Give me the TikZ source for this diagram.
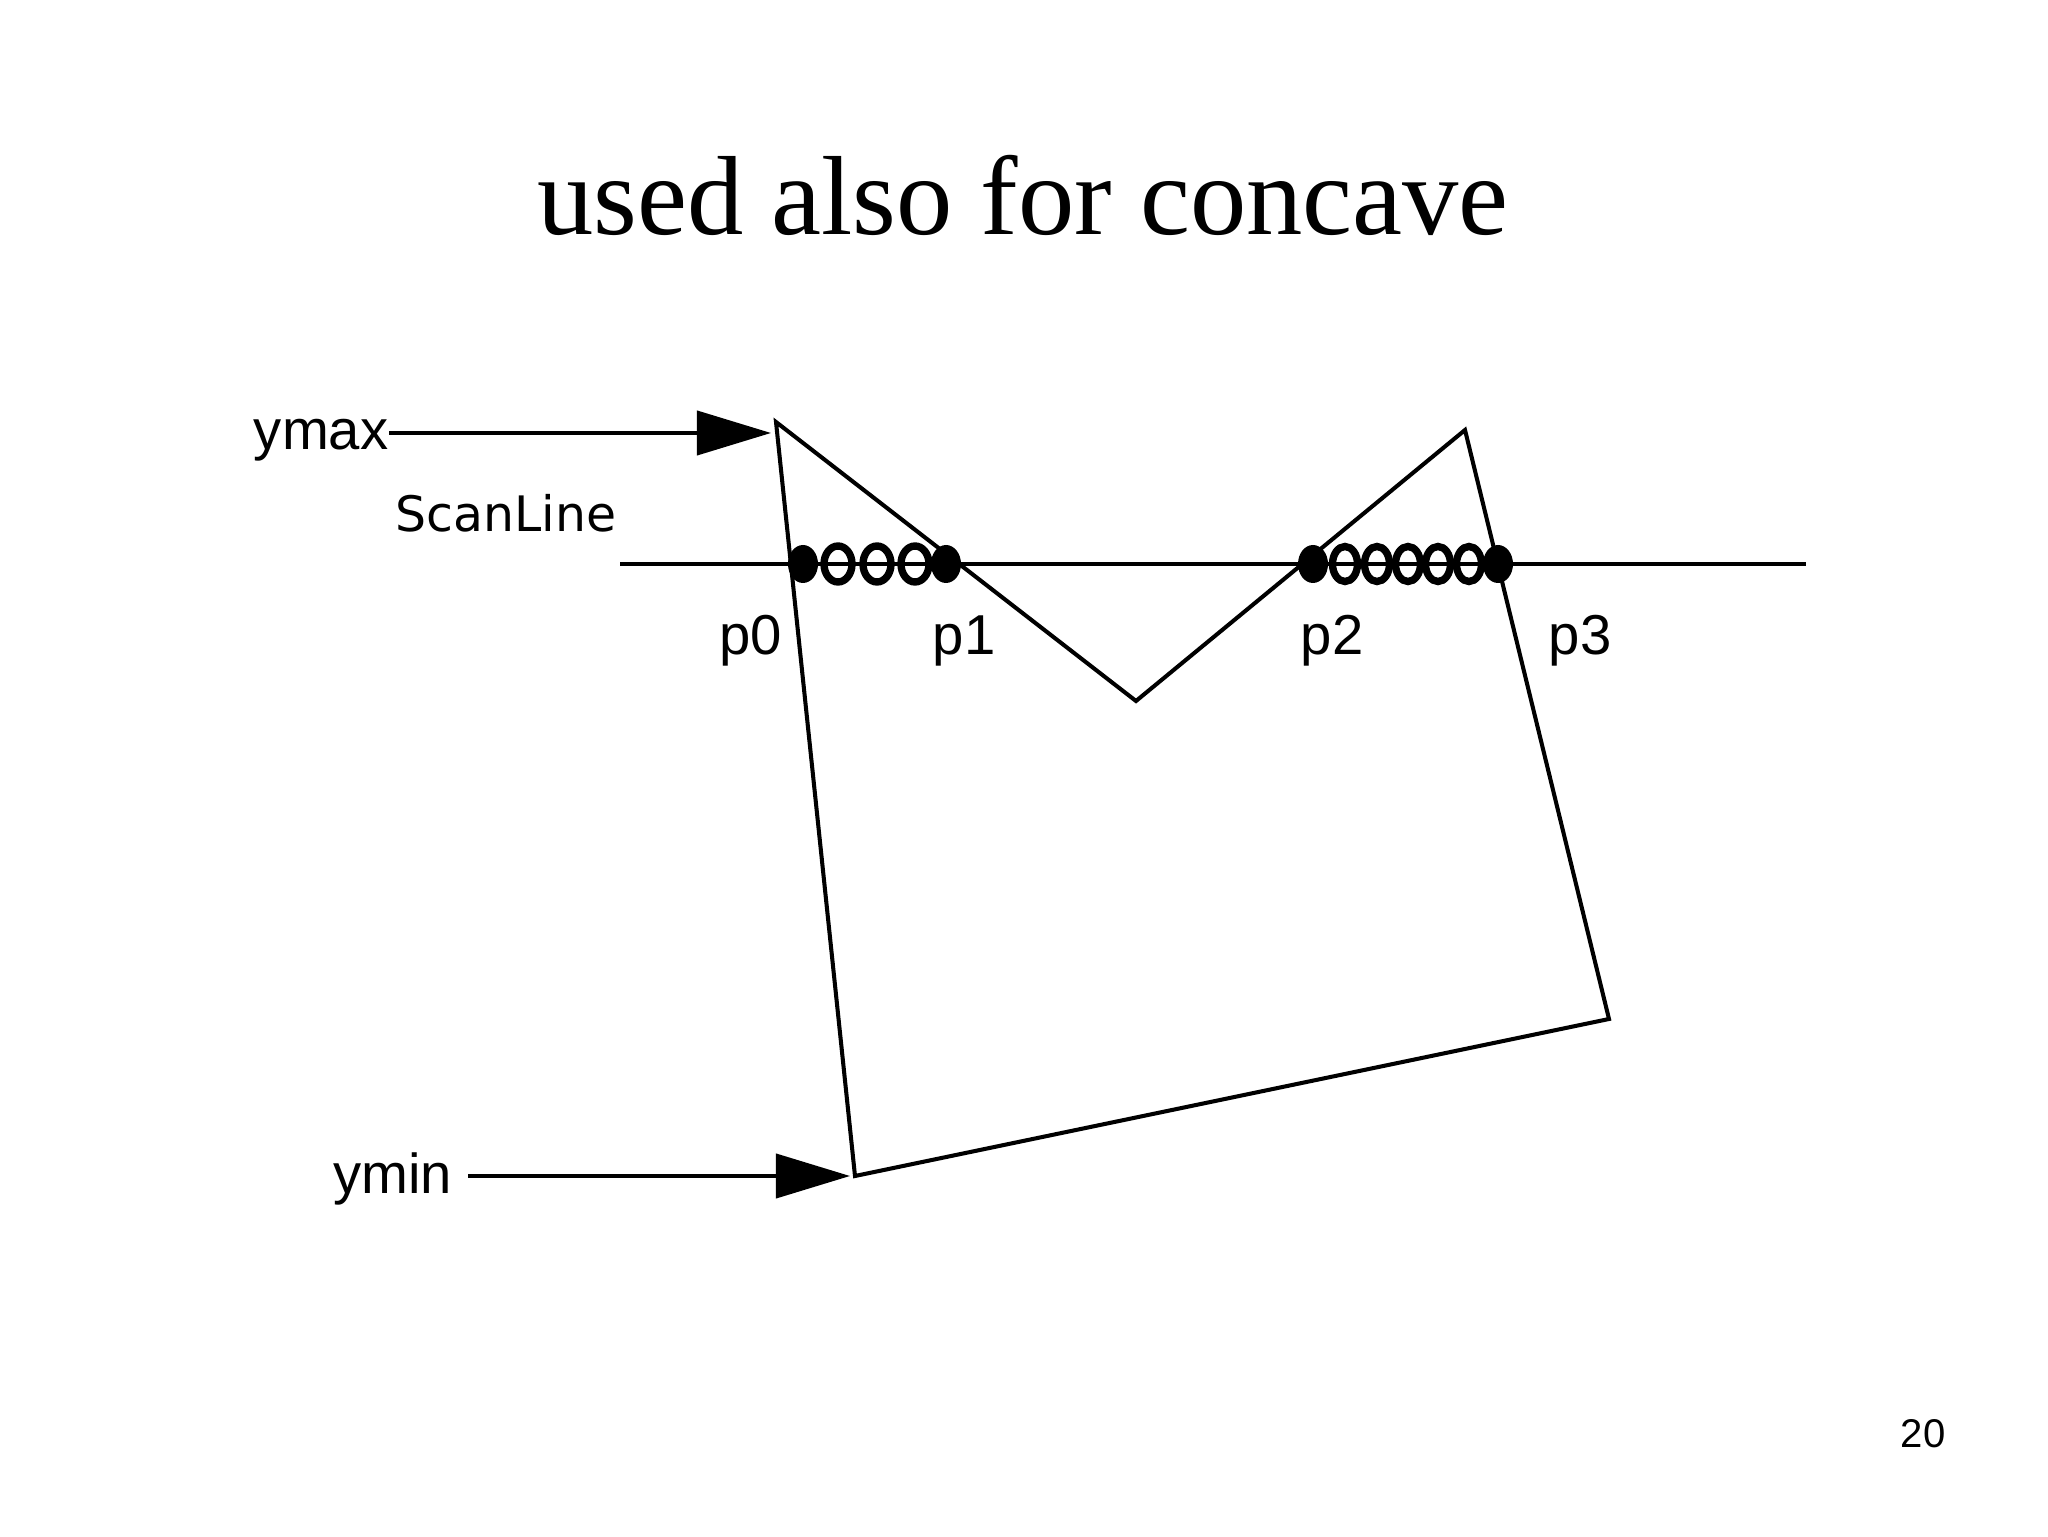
\documentclass[tikz,border=0pt]{standalone}
\usepackage{fontspec}
\setmainfont{Liberation Serif}
\newfontfamily\arialfont{Liberation Sans}
\newfontfamily\verdanafont{DejaVu Sans}
\usepackage{tikz}
\usetikzlibrary{arrows.meta}

\tikzset{
  edge/.style={line width=1.15pt, line join=miter},
  scan/.style={line width=1.4pt},
  ring/.style={line width=2.1pt},
  lbl/.style={inner sep=0pt, font=\arialfont\fontsize{16}{19}\selectfont},
  arr/.style={line width=1.15pt, -{Triangle[length=0.74cm,width=0.44cm]}},
}

\begin{document}
\begin{tikzpicture}[x=0.01cm,y=-0.01cm]
        \useasboundingbox (0,0) rectangle (2048,1537);

        % title of the slide
        \node[anchor=base, inner sep=0pt, font=\fontsize{32}{38}\selectfont] (title) at (1023,235) {used also for concave};

        % the concave polygon
        \coordinate (A) at (776,422);
        \coordinate (B) at (1136,701);
        \coordinate (C) at (1465,430);
        \coordinate (D) at (1609,1019);
        \coordinate (E) at (855,1176);
        \draw[edge] (A) -- (B) -- (C) -- (D) -- (E) -- cycle;

        % the scan line
        \coordinate (sl0) at (620,564);
        \coordinate (sl1) at (1806,564);
        \draw[scan] (sl0) -- (sl1);
        \node[anchor=base west, inner sep=0pt, font=\verdanafont\fontsize{13.9}{17}\selectfont] (scanlbl) at (395,532) {ScanLine};

        % pixels filled between the crossings
        \foreach \x in {838,877,915}
            \draw[ring] (\x,564) ellipse [x radius=14, y radius=18];
        \foreach \x in {1345,1377,1408,1438,1469}
            \draw[ring] (\x,564) ellipse [x radius=12.5, y radius=17.5];

        % crossings with the edges
        \foreach \x in {803,946,1313,1498}
            \fill (\x,564) ellipse [x radius=15, y radius=19];

        \node[lbl, anchor=base] (p0) at (751,655) {p0};
        \node[lbl, anchor=base] (p1) at (964,655) {p1};
        \node[lbl, anchor=base] (p2) at (1332,655) {p2};
        \node[lbl, anchor=base] (p3) at (1580,655) {p3};

        % ymax and ymin markers
        \node[lbl, anchor=base east] (ymax) at (389,450) {ymax};
        \coordinate (ymaxtip) at (771,433);
        \draw[arr] (ymax.east |- ymaxtip) -- (ymaxtip);

        \node[lbl, anchor=base east] (ymin) at (453,1193) {ymin};
        \coordinate (ymintip) at (850,1176);
        \draw[arr] ([xshift=0.15cm]ymin.east |- ymintip) -- (ymintip);

        % page number
        \node[anchor=base, inner sep=0pt, font=\arialfont\fontsize{11.4}{14}\selectfont] (page) at (1923,1447) {20};
\end{tikzpicture}
\end{document}
